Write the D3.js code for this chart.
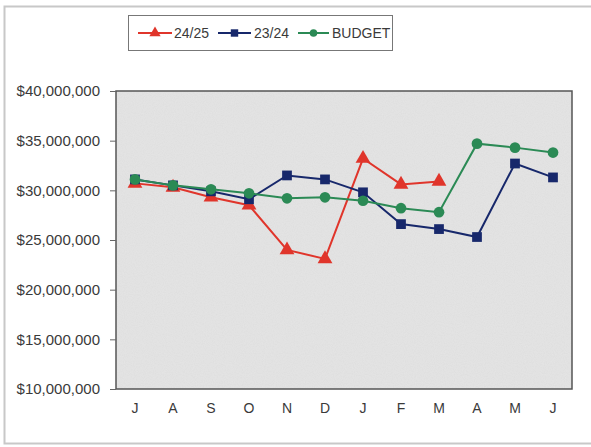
<!DOCTYPE html>
<html><head><meta charset="utf-8">
<script src="https://cdn.jsdelivr.net/npm/d3@7"></script>
<style>body{margin:0;background:#fff}svg{display:block}</style>
</head><body>
<svg id="c" width="591" height="447"></svg>
<script>
const months = ["J","A","S","O","N","D","J","F","M","A","M","J"];
const s2425 = [30.7e6, 30.3e6, 29.3e6, 28.5e6, 24.0e6, 23.1e6, 33.2e6, 30.6e6, 30.9e6];
const s2324 = [31.1e6, 30.5e6, 29.9e6, 29.1e6, 31.5e6, 31.1e6, 29.8e6, 26.6e6, 26.1e6, 25.3e6, 32.7e6, 31.3e6];
const budget = [31.1e6, 30.5e6, 30.1e6, 29.7e6, 29.2e6, 29.3e6, 28.95e6, 28.2e6, 27.8e6, 34.7e6, 34.3e6, 33.8e6];
const yTicks = [10e6, 15e6, 20e6, 25e6, 30e6, 35e6, 40e6];
const seriesNames = ["24/25", "23/24", "BUDGET"];

const svg = d3.select("#c");
const m = {l:116, r:572, t:91, b:389};
const FONT = "'Liberation Sans', Arial, sans-serif";

// outer frame
svg.append("rect").attr("x",4.5).attr("y",6.5).attr("width",620).attr("height",437)
  .attr("fill","#fff").attr("stroke","#c8c8c8").attr("stroke-width",2);

// noise filter for plot background
const defs = svg.append("defs");
const f = defs.append("filter").attr("id","noise").attr("x",0).attr("y",0).attr("width","100%").attr("height","100%");
f.append("feTurbulence").attr("type","fractalNoise").attr("baseFrequency",0.9).attr("numOctaves",2).attr("seed",3).attr("result","n");
f.append("feColorMatrix").attr("in","n").attr("type","matrix")
  .attr("values","0 0 0 0 0.5  0 0 0 0 0.5  0 0 0 0 0.5  0 0 0 0.18 0").attr("result","g");
f.append("feComposite").attr("in","g").attr("in2","SourceGraphic").attr("operator","in").attr("result","g2");
f.append("feMerge").call(mm=>{mm.append("feMergeNode").attr("in","SourceGraphic");mm.append("feMergeNode").attr("in","g2");});

const x = d3.scaleBand().domain(d3.range(months.length)).range([m.l, m.r]);
const y = d3.scaleLinear().domain([10e6, 40e6]).range([m.b, m.t]);

svg.append("rect").attr("x",m.l).attr("y",m.t).attr("width",m.r-m.l).attr("height",m.b-m.t)
  .attr("fill","#e5e5e5").attr("filter","url(#noise)");
svg.append("rect").attr("x",m.l).attr("y",m.t).attr("width",m.r-m.l).attr("height",m.b-m.t)
  .attr("fill","none").attr("stroke","#555").attr("stroke-width",1.5);

// y axis
const fmt = d => "$" + d3.format(",")(d);
const yAx = svg.append("g").attr("transform",`translate(${m.l},0)`)
  .call(d3.axisLeft(y).tickValues(yTicks).tickFormat(fmt).tickSize(6).tickPadding(10));
yAx.select(".domain").remove();
yAx.selectAll("line").attr("stroke","#666");
yAx.selectAll("text").attr("font-family",FONT).attr("font-size",15).attr("fill","#3a3a3a");

// x axis
const xAx = svg.append("g").attr("transform",`translate(0,${m.b})`)
  .call(d3.axisBottom(x).tickFormat(i=>months[i]).tickSize(0).tickPadding(14));
xAx.select(".domain").remove();
xAx.selectAll("text").attr("font-family",FONT).attr("font-size",14).attr("fill","#3a3a3a");

const cx = i => x(i) + x.bandwidth()/2;
const line = d3.line().x((d,i)=>cx(i)).y(d=>y(d));

const cols = {"24/25":"#e0352b","23/24":"#17286b","BUDGET":"#2b8a55"};
const data = {"24/25":s2425,"23/24":s2324,"BUDGET":budget};
const symType = {"24/25":d3.symbolTriangle,"23/24":d3.symbolSquare,"BUDGET":d3.symbolCircle};
const symSize = {"24/25":95,"23/24":95,"BUDGET":90};
const legSize = {"24/25":55,"23/24":55,"BUDGET":45};

seriesNames.forEach(name=>{
  svg.append("path").datum(data[name]).attr("d",line).attr("fill","none")
    .attr("stroke",cols[name]).attr("stroke-width",2);
});
seriesNames.forEach(name=>{
  svg.append("g").selectAll("path").data(data[name]).join("path")
    .attr("transform",(d,i)=>`translate(${cx(i)},${y(d)})`)
    .attr("d",d3.symbol().type(symType[name]).size(symSize[name])()).attr("fill",cols[name]);
});

// legend
const lg = svg.append("g");
lg.append("rect").attr("x",128.5).attr("y",15.5).attr("width",264).attr("height",35)
  .attr("fill","#fff").attr("stroke","#777").attr("stroke-width",1);
const items = [{n:"24/25",x1:138,x2:172,tx:174},{n:"23/24",x1:218,x2:251,tx:254},{n:"BUDGET",x1:298,x2:329,tx:332}];
items.forEach(it=>{
  lg.append("line").attr("x1",it.x1).attr("x2",it.x2).attr("y1",33).attr("y2",33)
    .attr("stroke",cols[it.n]).attr("stroke-width",2);
  lg.append("path").attr("transform",`translate(${(it.x1+it.x2)/2},33)`)
    .attr("d",d3.symbol().type(symType[it.n]).size(legSize[it.n])())
    .attr("fill",cols[it.n]);
  lg.append("text").attr("x",it.tx).attr("y",38).text(it.n)
    .attr("font-family",FONT).attr("font-size",14).attr("fill","#3a3a3a");
});
</script>
</body></html>
